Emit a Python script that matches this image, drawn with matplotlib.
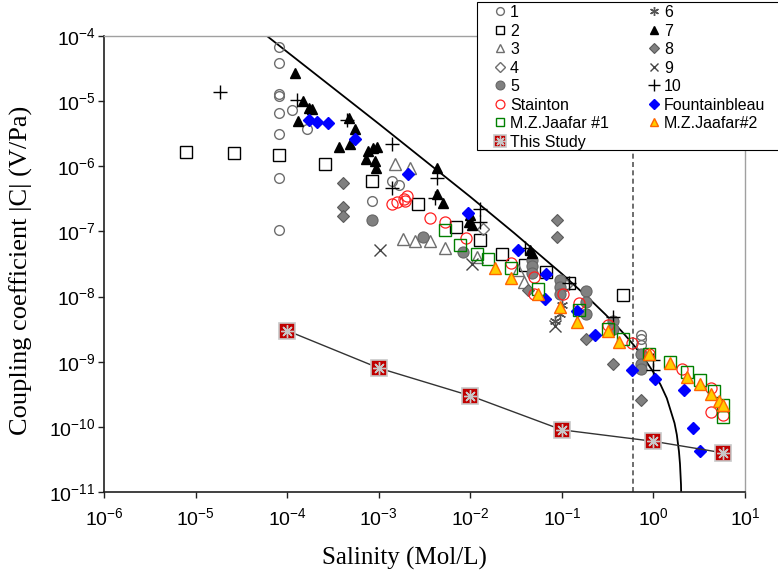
import matplotlib
matplotlib.use("Agg")
import matplotlib.pyplot as plt
from matplotlib.patches import Rectangle
from matplotlib.ticker import LogLocator, NullLocator

plt.rcParams['font.family'] = ['Liberation Sans', 'DejaVu Sans']
plt.rcParams['mathtext.fontset'] = 'custom'
plt.rcParams['mathtext.rm'] = 'Liberation Sans'
plt.rcParams['mathtext.it'] = 'Liberation Sans:italic'
plt.rcParams['mathtext.bf'] = 'Liberation Sans:bold'
plt.rcParams['axes.unicode_minus'] = False

# ---- published data sets (salinity in mol/L, |C| in V/Pa) ----
s1_x = [8.1e-5, 8.1e-5, 8.1e-5, 8.1e-5, 8.1e-5, 8.1e-5, 8.1e-5, 8.1e-5,
        1.13e-4, 1.64e-4, 8.4e-4, 1.41e-3, 1.66e-3, 0.74, 0.74, 0.74]
s1_y = [6.8e-5, 3.8e-5, 1.3e-5, 1.2e-5, 6.6e-6, 3.1e-6, 6.6e-7, 1.07e-7,
        7.3e-6, 3.8e-6, 2.9e-7, 6e-7, 5.2e-7, 2.6e-9, 2.2e-9, 1.8e-9]

s2_x = [7.9e-6, 2.6e-5, 8.1e-5, 2.6e-4, 8.4e-4, 2.7e-3, 6.9e-3, 1.29e-2,
        2.2e-2, 3.95e-2, 6.7e-2, 0.119, 0.47]
s2_y = [1.65e-6, 1.6e-6, 1.5e-6, 1.1e-6, 6e-7, 2.6e-7, 1.15e-7, 7.3e-8,
        4.5e-8, 3.1e-8, 2.4e-8, 1.6e-8, 1.04e-8]

s3_x = [1.5e-3, 2.2e-3, 1.84e-3, 2.48e-3, 3.67e-3, 5.3e-3, 1.18e-2, 3.3e-2, 3.9e-2]
s3_y = [1.07e-6, 9.3e-7, 7.6e-8, 7.1e-8, 7.1e-8, 5.5e-8, 4.1e-8, 2.6e-8, 1.7e-8]

s4_x = [1.36e-2, 0.11]
s4_y = [1.1e-7, 1.5e-8]

s5_x = [8.4e-4, 3.08e-3, 8.3e-3, 4.7e-2, 4.7e-2, 4.7e-2, 9.6e-2, 9.6e-2, 9.6e-2,
        0.185, 0.185, 0.185, 0.365, 0.365, 0.74, 0.74, 0.74]
s5_y = [1.5e-7, 8.1e-8, 4.9e-8, 3.7e-8, 2.9e-8, 2.3e-8, 1.8e-8, 1.4e-8, 1.1e-8,
        1.2e-8, 8.4e-9, 5.4e-9, 4.2e-9, 3.2e-9, 1.3e-9, 9.3e-10, 7.8e-10]

s6_x = [8.4e-2, 9.6e-2, 0.1]
s6_y = [4.2e-9, 5.4e-9, 7.5e-9]

s7_x = [1.22e-4, 1.49e-4, 1.73e-4, 1.87e-4, 1.31e-4, 4.73e-4, 5.5e-4, 4.85e-4,
        3.68e-4, 7.6e-4, 8.6e-4, 9.55e-4, 7.25e-4, 9.1e-4, 9.3e-4, 4.3e-3,
        4.3e-3, 5.0e-3, 9.9e-3, 9.7e-3, 1.04e-2, 4.48e-2, 4.7e-2]
s7_y = [2.7e-5, 1e-5, 7.8e-6, 7.5e-6, 4.9e-6, 5.5e-6, 3.7e-6, 2.2e-6,
        1.95e-6, 1.7e-6, 1.9e-6, 2e-6, 1.3e-6, 1.2e-6, 9.3e-7, 9.3e-7,
        3.7e-7, 2.7e-7, 1.8e-7, 1.4e-7, 1.25e-7, 5.2e-8, 4.6e-8]

s8_x = [4.06e-4, 4.06e-4, 4.06e-4, 8.8e-2, 8.8e-2, 4.3e-2, 0.185, 0.365, 0.74]
s8_y = [5.5e-7, 2.35e-7, 1.7e-7, 1.5e-7, 8.1e-8, 1.26e-8, 2.2e-9, 9.3e-10, 2.6e-10]

s9_x = [1.03e-3, 1.04e-2, 8.4e-2]
s9_y = [5.2e-8, 3.2e-8, 3.5e-9]

s10_x = [1.85e-5, 1.28e-4, 4.5e-4, 1.41e-3, 1.41e-3, 4.3e-3, 4.1e-3, 1.29e-2,
         1.29e-2, 3.95e-2, 0.119, 0.365, 0.985, 0.985]
s10_y = [1.4e-5, 1.05e-5, 5.1e-6, 2.2e-6, 4.6e-7, 6.6e-7, 3.3e-7, 2.2e-7,
         1.4e-7, 5.6e-8, 1.6e-8, 4.9e-9, 1.07e-9, 7.5e-10]

stainton_x = [1.41e-3, 1.6e-3, 1.88e-3, 1.95e-3, 2.03e-3, 3.67e-3, 5.3e-3, 8.95e-3,
              2.81e-2, 4.94e-2, 4.94e-2, 0.103, 0.155, 0.318, 0.589, 0.902,
              2.07, 4.24, 4.3, 5.72]
stainton_y = [2.6e-7, 2.8e-7, 3.1e-7, 2.9e-7, 3.5e-7, 1.6e-7, 1.4e-7, 7.8e-8,
              3.3e-8, 2e-8, 1.1e-8, 1.1e-8, 8.1e-9, 3.7e-9, 1.95e-9, 1.3e-9,
              7.8e-10, 4e-10, 1.7e-10, 1.5e-10]

fontain_x = [1.73e-4, 2.11e-4, 2.79e-4, 5.5e-4, 2.08e-3, 9.5e-3, 3.31e-2, 6.7e-2,
             6.5e-2, 0.148, 0.229, 0.589, 1.05, 2.15, 2.69, 3.25]
fontain_y = [5.1e-6, 4.8e-6, 4.6e-6, 2.6e-6, 7.6e-7, 1.9e-7, 5.1e-8, 2.2e-8,
             9.3e-9, 5.9e-9, 2.6e-9, 7.5e-10, 5.5e-10, 3.7e-10, 9.6e-11, 4.3e-11]

jaafar1_x = [5.3e-3, 7.7e-3, 1.18e-2, 1.58e-2, 2.81e-2, 5.5e-2, 0.155, 0.318,
             0.47, 0.902, 1.53, 2.32, 3.25, 4.56, 5.72, 5.72]
jaafar1_y = [1.05e-7, 6.3e-8, 4.5e-8, 3.8e-8, 2.7e-8, 1.3e-8, 6.3e-9, 3.2e-9,
             2.2e-9, 1.3e-9, 1e-9, 7e-10, 5.2e-10, 3.5e-10, 2.2e-10, 1.4e-10]

jaafar2_x = [1.86e-2, 2.81e-2, 5.5e-2, 9.6e-2, 0.148, 0.318, 0.419, 0.902,
             1.53, 2.32, 3.25, 4.24, 5.18, 5.72]
jaafar2_y = [2.7e-8, 1.9e-8, 1.1e-8, 6.8e-9, 4e-9, 3e-9, 2e-9, 1.3e-9,
             9.6e-10, 5.9e-10, 4.6e-10, 3.2e-10, 2.5e-10, 2.2e-10]

study_x = [1e-4, 1e-3, 1e-2, 0.1, 1.0, 5.7]
study_y = [3e-9, 8e-10, 3e-10, 9e-11, 6e-11, 4e-11]

# theoretical upper bound curve
model_x = [5e-5, 1e-4, 1e-3, 1e-2, 3e-2, 0.1, 0.2, 0.3, 0.45, 0.6, 0.8, 1.0,
           1.2, 1.4, 1.7, 1.8, 1.9, 1.95, 2.0, 2.03]
model_y = [1.23e-4, 5.7e-5, 4.5e-6, 3.4e-7, 9.5e-8, 2.24e-8, 9.2e-9, 5.3e-9,
           2.93e-9, 1.85e-9, 1.1e-9, 6.9e-10, 4.4e-10, 2.75e-10, 1.14e-10,
           7.6e-11, 4.2e-11, 2.7e-11, 1.3e-11, 5e-12]

seawater = 0.6

fig = plt.figure(figsize=(7.78, 5.75), dpi=100)
ax = fig.add_axes([104 / 778, 1 - 492 / 575, 641 / 778, 456 / 575])
ax.set_xscale('log')
ax.set_yscale('log')
ax.set_xlim(1e-6, 1e1)
ax.set_ylim(1e-11, 1e-4)

ax.plot(model_x, model_y, color='black', lw=1.3, zorder=2)
ax.axvline(seawater, color='#555555', lw=1.2, ls=(0, (3, 2)), zorder=1)

mk = dict(ls='none')
h1, = ax.plot(s1_x, s1_y, marker='o', ms=7, mfc='none', mec='#6e6e6e', mew=1, **mk)
h2, = ax.plot(s2_x, s2_y, marker='s', ms=8, mfc='none', mec='black', mew=1, **mk)
h3, = ax.plot(s3_x, s3_y, marker='^', ms=8, mfc='none', mec='#6e6e6e', mew=1, **mk)
h4, = ax.plot(s4_x, s4_y, marker='D', ms=6, mfc='none', mec='#6e6e6e', mew=1, **mk)
h5, = ax.plot(s5_x, s5_y, marker='o', ms=8, mfc='#808080', mec='#666666', mew=0.8, **mk)
h6, = ax.plot(s6_x, s6_y, marker=(6, 2, 0), ms=8, color='#555555', mew=1, **mk)
h7, = ax.plot(s7_x, s7_y, marker='^', ms=7, color='black', **mk)
h8, = ax.plot(s8_x, s8_y, marker='D', ms=6.5, mfc='#808080', mec='#5a5a5a', mew=0.8, **mk)
h9, = ax.plot(s9_x, s9_y, marker='x', ms=8, color='#444444', mew=1, **mk)
h10, = ax.plot(s10_x, s10_y, marker='+', ms=10, color='black', mew=1, **mk)
hs, = ax.plot(stainton_x, stainton_y, marker='o', ms=8, mfc='none', mec='#ff2020', mew=0.9, **mk)
hf, = ax.plot(fontain_x, fontain_y, marker='D', ms=6.5, color='#0000ff', **mk)
hj1, = ax.plot(jaafar1_x, jaafar1_y, marker='s', ms=8, mfc='none', mec='#008000', mew=1, **mk)
hj2, = ax.plot(jaafar2_x, jaafar2_y, marker='^', ms=8, mfc='#ffcc00', mec='#ff6600', mew=1, **mk)

# this study: measurements with a trend line
ax.plot(study_x, study_y, color='#333333', lw=1, zorder=3)
ht1, = ax.plot(study_x, study_y, marker='s', ms=11, mfc='#c00000', mec='#c8c8c8', mew=1.2, ls='none', zorder=4)
ht2, = ax.plot(study_x, study_y, marker=(8, 2, 0), ms=9, color='#c8c8c8', mew=1, ls='none', zorder=5)

# axes styling
for side in ['left', 'bottom']:
    ax.spines[side].set_color('#202020')
    ax.spines[side].set_linewidth(1.2)
for side in ['top', 'right']:
    ax.spines[side].set_color('#a0a0a0')
    ax.spines[side].set_linewidth(1)

ax.xaxis.set_major_locator(LogLocator(base=10, numticks=20))
ax.yaxis.set_major_locator(LogLocator(base=10, numticks=20))
ax.xaxis.set_minor_locator(NullLocator())
ax.yaxis.set_minor_locator(NullLocator())
ax.tick_params(direction='out', length=4, width=1, color='#202020', labelsize=14)
ax.tick_params(axis='x', pad=7)
ax.tick_params(axis='y', pad=2)

ax.set_xlabel('Salinity (Mol/L)', family='Liberation Serif', fontsize=18)
ax.xaxis.set_label_coords(0.468, -0.12)
ax.set_ylabel('Coupling coefficient |C| (V/Pa)', family='Liberation Serif', fontsize=19)
ax.yaxis.set_label_coords(-0.111, 0.487)

# legend box
fig.patches.append(Rectangle((477 / 778, 1 - 150 / 575), 330 / 778, 148 / 575,
                             transform=fig.transFigure, facecolor='white',
                             edgecolor='black', lw=0.8, zorder=3))
handles = [h1, h2, h3, h4, h5, hs, hj1, (ht1, ht2),
           h6, h7, h8, h9, h10, hf, hj2]
labels = ['1', '2', '3', '4', '5', 'Stainton', 'M.Z.Jaafar #1', 'This Study',
          '6', '7', '8', '9', '10', 'Fountainbleau', 'M.Z.Jaafar#2']
fig.legend(handles, labels, loc='upper left', bbox_to_anchor=(494 / 778, 1 - 5 / 575),
           ncol=2, frameon=False, fontsize=11.5, borderpad=0, borderaxespad=0,
           handlelength=0.8, handletextpad=0.2, columnspacing=2.45,
           labelspacing=0.22, markerscale=0.8)

fig.savefig('out.png', dpi=100, facecolor='white')
